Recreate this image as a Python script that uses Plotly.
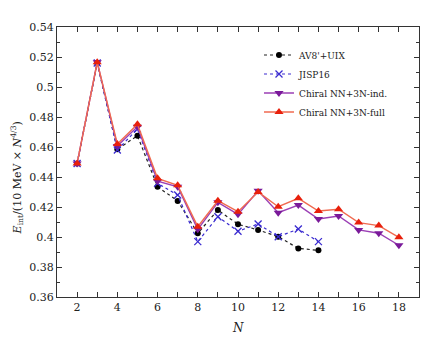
import plotly.graph_objects as go

N_av8 = [2, 3, 4, 5, 6, 7, 8, 9, 10, 11, 12, 13, 14]
E_av8 = [0.449, 0.516, 0.4585, 0.4675, 0.4335, 0.424, 0.4025, 0.418, 0.4085, 0.4047, 0.4002, 0.3924, 0.3911]

N_jisp = [2, 3, 4, 5, 6, 7, 8, 9, 10, 11, 12, 13, 14]
E_jisp = [0.449, 0.516, 0.458, 0.472, 0.4358, 0.428, 0.3969, 0.4135, 0.4038, 0.4087, 0.4002, 0.4053, 0.3969]

N_chi = [2, 3, 4, 5, 6, 7, 8, 9, 10, 11, 12, 13, 14, 15, 16, 17, 18]
E_ind = [0.449, 0.5165, 0.4607, 0.4735, 0.4373, 0.4335, 0.4051, 0.4231, 0.4151, 0.4308, 0.4162, 0.4213, 0.412, 0.414, 0.4047, 0.4025, 0.3945]
E_full = [0.449, 0.5165, 0.462, 0.4751, 0.4391, 0.4345, 0.4069, 0.4242, 0.4169, 0.4300, 0.4202, 0.4258, 0.4173, 0.4185, 0.4096, 0.4076, 0.3998]

x_ticks = [2, 4, 6, 8, 10, 12, 14, 16, 18]
y_ticks = [0.36, 0.38, 0.4, 0.42, 0.44, 0.46, 0.48, 0.5, 0.52, 0.54]
y_ticklabels = ["0.36", "0.38", "0.4", "0.42", "0.44", "0.46", "0.48", "0.5", "0.52", "0.54"]

FONT = "DejaVu Serif"
TXT = "#222222"

fig = go.Figure()
fig.add_trace(go.Scatter(
    x=N_av8, y=E_av8, name="AV8'+UIX", mode="lines+markers",
    line=dict(color="#222222", width=1.2, dash="dot"),
    marker=dict(symbol="circle", size=6, color="black")))
fig.add_trace(go.Scatter(
    x=N_jisp, y=E_jisp, name="JISP16", mode="lines+markers",
    line=dict(color="#3a2bd0", width=1.2, dash="dot"),
    marker=dict(symbol="x-thin-open", size=7, color="#3a2bd0",
                line=dict(color="#3a2bd0", width=1.3))))
fig.add_trace(go.Scatter(
    x=N_chi, y=E_ind, name="Chiral NN+3N-ind.", mode="lines+markers",
    line=dict(color="#9b3fb5", width=1.4),
    marker=dict(symbol="triangle-down", size=8, color="#7a1a9a")))
fig.add_trace(go.Scatter(
    x=N_chi, y=E_full, name="Chiral NN+3N-full", mode="lines+markers",
    line=dict(color="#f06a50", width=1.4),
    marker=dict(symbol="triangle-up", size=8, color="#e8200c")))

axis_common = dict(
    showgrid=False, zeroline=False, showline=True, linecolor="#333333", linewidth=1,
    mirror="ticks", ticks="inside", ticklen=5, tickcolor="#333333",
    tickfont=dict(family=FONT, size=11, color=TXT), automargin=False,
)

fig.update_xaxes(
    range=[1, 19], tickvals=x_ticks, ticktext=[str(v) for v in x_ticks],
    minor=dict(dtick=1, tick0=1, ticks="inside", ticklen=5, tickcolor="#333333"),
    **axis_common)
fig.update_yaxes(
    range=[0.36, 0.54], tickvals=y_ticks, ticktext=y_ticklabels,
    minor=dict(dtick=0.01, tick0=0.36, ticks="inside", ticklen=3, tickcolor="#333333"),
    **axis_common)

fig.add_annotation(text="<i>N</i>", xref="paper", yref="paper", x=0.5, y=-0.115,
                   xanchor="center", yanchor="middle", showarrow=False,
                   font=dict(family=FONT, size=12, color=TXT))
fig.add_annotation(text="<i>E</i><sub>int</sub>/(10 MeV × <i>N</i><sup>4/3</sup>)",
                   xref="paper", yref="paper", x=-0.11, y=0.44, textangle=-90,
                   xanchor="center", yanchor="middle", showarrow=False,
                   font=dict(family=FONT, size=11, color=TXT))

fig.update_layout(
    width=435, height=329,
    margin=dict(l=49, r=24, t=19, b=40),
    paper_bgcolor="white", plot_bgcolor="white",
    font=dict(family=FONT, color=TXT),
    legend=dict(x=0.558, y=0.95, xanchor="left", yanchor="top",
                bgcolor="rgba(0,0,0,0)", font=dict(family=FONT, size=9, color=TXT),
                tracegroupgap=0),
    showlegend=True,
)

fig.write_html("out.html")
